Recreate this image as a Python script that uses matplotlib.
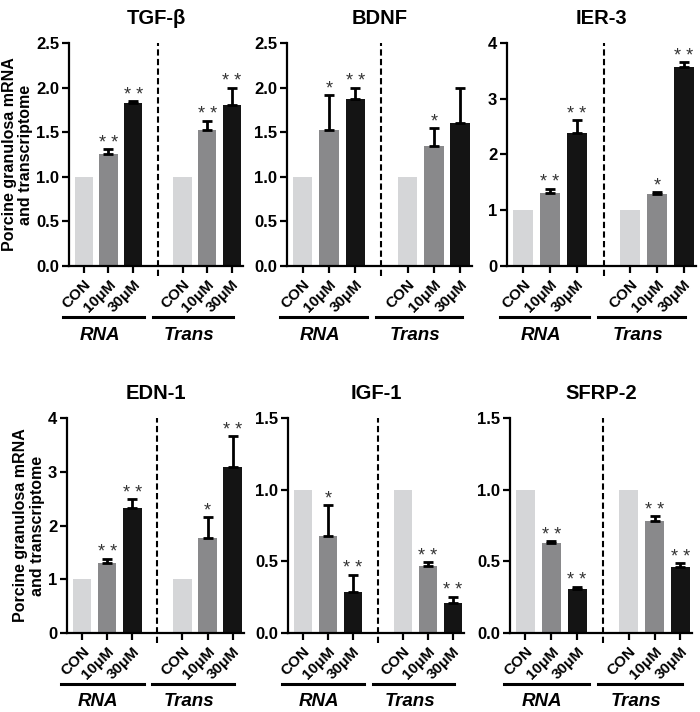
import numpy as np
import matplotlib
matplotlib.use('Agg')
import matplotlib.pyplot as plt
import matplotlib.transforms as mtransforms

plt.rcParams['font.family'] = ['Liberation Sans', 'DejaVu Sans']
plt.rcParams['font.weight'] = 'bold'

# data (RNA: CON, 10uM, 30uM | Trans: CON, 10uM, 30uM)
genes = ['TGF-β', 'BDNF', 'IER-3', 'EDN-1', 'IGF-1', 'SFRP-2']
doses = ['CON', '10μM', '30μM', 'CON', '10μM', '30μM']
groups = ['RNA', 'Trans']

tgf_mean = [1.0, 1.26, 1.83, 1.0, 1.53, 1.80]
tgf_err = [0, 0.05, 0.02, 0, 0.10, 0.20]
tgf_sig = ['', '**', '**', '', '**', '**']

bdnf_mean = [1.0, 1.52, 1.87, 1.0, 1.35, 1.60]
bdnf_err = [0, 0.40, 0.13, 0, 0.20, 0.39]
bdnf_sig = ['', '*', '**', '', '*', '']

ier_mean = [1.0, 1.31, 2.39, 1.0, 1.29, 3.57]
ier_err = [0, 0.08, 0.23, 0, 0.04, 0.09]
ier_sig = ['', '**', '**', '', '*', '**']

edn_mean = [1.0, 1.30, 2.33, 1.0, 1.76, 3.09]
edn_err = [0, 0.08, 0.16, 0, 0.40, 0.57]
edn_sig = ['', '**', '**', '', '*', '**']

igf_mean = [1.0, 0.675, 0.287, 1.0, 0.464, 0.207]
igf_err = [0, 0.22, 0.12, 0, 0.03, 0.045]
igf_sig = ['', '*', '**', '', '**', '**']

sfrp_mean = [1.0, 0.626, 0.307, 1.0, 0.78, 0.458]
sfrp_err = [0, 0.014, 0.016, 0, 0.034, 0.03]
sfrp_sig = ['', '**', '**', '', '**', '**']

means = [tgf_mean, bdnf_mean, ier_mean, edn_mean, igf_mean, sfrp_mean]
errs = [tgf_err, bdnf_err, ier_err, edn_err, igf_err, sfrp_err]
sigs = [tgf_sig, bdnf_sig, ier_sig, edn_sig, igf_sig, sfrp_sig]
ytops = [2.5, 2.5, 4, 4, 1.5, 1.5]
ysteps = [0.5, 0.5, 1, 1, 0.5, 0.5]
yfmt = ['%.1f', '%.1f', '%d', '%d', '%.1f', '%.1f']

x = np.array([0, 1, 2, 4, 5, 6])
colors = ['#d5d6d8', '#89898b', '#141414'] * 2

W, H = 700, 712
fig = plt.figure(figsize=(W / 100, H / 100), dpi=100)

# panel boxes in pixels: left, right, top, bottom
boxes = [(69, 243, 43, 266), (287, 472, 43, 266), (507, 696, 43, 266),
         (67, 244, 418, 633), (288, 464, 418, 633), (510, 692, 418, 633)]

for i, g in enumerate(genes):
    l, r, t, b = boxes[i]
    ax = fig.add_axes([l / W, (H - b) / H, (r - l) / W, (b - t) / H])
    m = np.array(means[i])
    e = np.array(errs[i])
    ax.bar(x, m, width=0.74, color=colors, edgecolor='none', zorder=2)
    up = x[e > 0]
    ax.errorbar(up, m[e > 0], yerr=[np.zeros(len(up)), e[e > 0]], fmt='none',
                ecolor='black', elinewidth=2.0, capsize=3.8, capthick=2.0, zorder=3)
    for xi, mi, ei, s in zip(x, m, e, sigs[i]):
        if s:
            ax.annotate(s.replace('**', '* *'), (xi, mi + ei), xytext=(0, 1),
                        textcoords='offset points', ha='center', va='baseline',
                        fontsize=13, fontweight='normal', color='#333333')

    ax.set_xlim(-0.6, 6.45)
    ax.set_ylim(0, ytops[i])
    ticks = np.arange(0, ytops[i] + 1e-9, ysteps[i])
    ax.set_yticks(ticks)
    ax.set_yticklabels([yfmt[i] % v for v in ticks])
    ax.set_xticks(x)
    ax.set_xticklabels(doses, rotation=45, ha='right', rotation_mode='anchor')
    ax.tick_params(axis='both', length=5, width=1.6, labelsize=12, pad=2)
    ax.tick_params(axis='x', pad=3, labelsize=11)
    for lab in ax.get_xticklabels() + ax.get_yticklabels():
        lab.set_fontweight('bold')
    ax.spines['top'].set_visible(False)
    ax.spines['right'].set_visible(False)
    ax.spines['left'].set_linewidth(1.6)
    ax.spines['bottom'].set_linewidth(1.6)
    ax.set_title(g, fontsize=14.5, fontweight='bold', pad=14)

    # dashed separator between RNA and Trans
    tr = mtransforms.blended_transform_factory(ax.transData, ax.transAxes)
    ax.plot([3, 3], [-0.045, 1.0], transform=tr, color='black', lw=1.5,
            linestyle=(0, (3, 1.6)), clip_on=False, zorder=4)

    # group underlines and labels
    off_line = tr + mtransforms.ScaledTranslation(0, -0.51, fig.dpi_scale_trans)
    off_text = tr + mtransforms.ScaledTranslation(0, -0.69, fig.dpi_scale_trans)
    for (x0, x1), name in zip([(-0.85, 2.45), (2.8, 6.05)], groups):
        ax.plot([x0, x1], [0, 0], transform=off_line, color='black', lw=2.2,
                clip_on=False)
        ax.text((x0 + x1) / 2 - 0.15, 0, name, transform=off_text, ha='center',
                va='center', fontsize=13.5, fontweight='bold', style='italic')

    if i in (0, 3):
        ax.set_ylabel('Porcine granulosa mRNA\nand transcriptome', fontsize=11.5,
                      fontweight='bold', labelpad=2, linespacing=1.15)

fig.savefig('out.png', dpi=100)
